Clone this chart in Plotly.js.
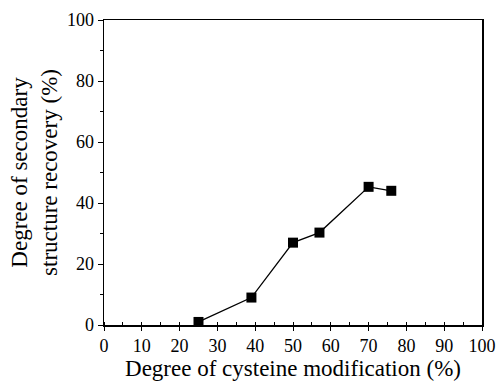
<!DOCTYPE html>
<html><head><meta charset="utf-8">
<script src="https://cdn.plot.ly/plotly-3.0.1.min.js"></script>
<style>html,body{margin:0;padding:0;background:#fff}</style>
</head><body>
<div id="chart" style="width:498px;height:383px"></div>
<script>
const modification = [25, 39, 50, 57, 70, 76];
const recovery = [1, 9, 27, 30.3, 45.3, 44];
const xTicks = [0,10,20,30,40,50,60,70,80,90,100];
const yTicks = [0,20,40,60,80,100];

const fam = "'Liberation Serif', 'DejaVu Serif', serif";
const f = s => ({family: fam, size: s, color: '#000'});
Plotly.newPlot('chart', [{
  x: modification, y: recovery, type: 'scatter', mode: 'lines+markers',
  line: {color: '#000', width: 1.3},
  marker: {symbol: 'square', size: 10, color: '#000'}
}], {
  width: 498, height: 383,
  margin: {l: 104, r: 16, t: 20, b: 58},
  paper_bgcolor: '#fff', plot_bgcolor: '#fff',
  showlegend: false,
  font: f(18),
  xaxis: {range: [0, 100], tickvals: xTicks, ticktext: xTicks.map(String),
    showgrid: false, zeroline: false, showline: true, mirror: true, linecolor: '#000', linewidth: 1.5,
    ticks: 'outside', ticklen: 4, tickcolor: '#000', tickwidth: 1,
    minor: {dtick: 5, ticks: 'inside', ticklen: 3, tickcolor: '#000', showgrid: false},
    tickfont: f(18),
    title: {text: 'Degree of cysteine modification (%)', font: f(23), standoff: 2}},
  yaxis: {range: [0, 100], tickvals: yTicks, ticktext: yTicks.map(String),
    showgrid: false, zeroline: false, showline: true, mirror: true, linecolor: '#000', linewidth: 1.5,
    ticks: 'outside', ticklen: 5, tickcolor: '#000', tickwidth: 1,
    minor: {dtick: 10, ticks: 'outside', ticklen: 3, tickcolor: '#000', showgrid: false},
    tickfont: f(18),
    title: {text: 'Degree of secondary<br>structure recovery (%)', font: f(23), standoff: 3}}
}, {displayModeBar: false, staticPlot: true});
</script>
</body></html>
